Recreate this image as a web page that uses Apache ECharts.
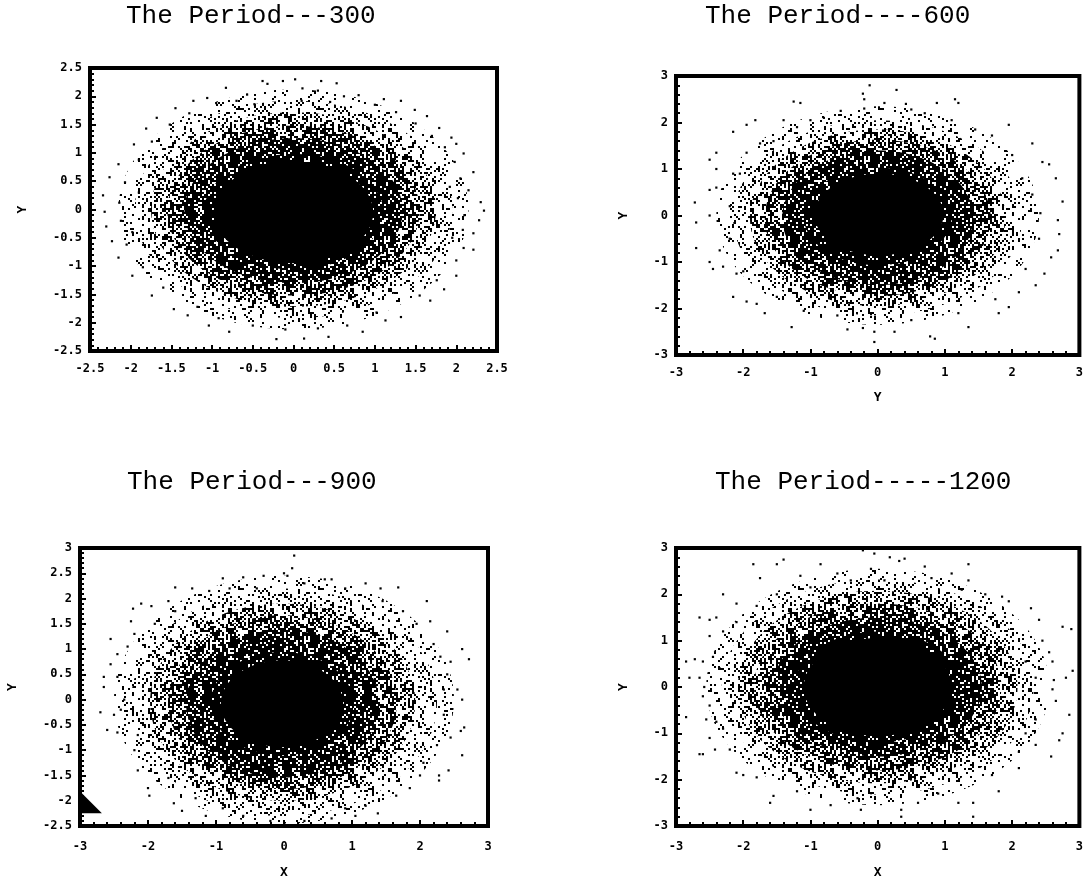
<!DOCTYPE html>
<html><head><meta charset="utf-8">
<style>html,body{margin:0;padding:0;background:#fff}#c{width:1086px;height:882px}</style>
<script src="https://cdn.jsdelivr.net/npm/echarts@6/dist/echarts.min.js"></script>
</head><body><div id="c"></div>
<script>
// Density regions: centre x, centre y, radius x, radius y, darkness level (10 = solid)
const regions300 = [[0,0,2.15,2.12,1],[0,0,1.95,1.92,2],[0,0,1.75,1.72,4],[0,-0.02,1.55,1.5,6],[0,-0.02,1.34,1.28,8],[0,-0.04,1.1,1.02,9],[0,-0.05,0.98,0.9,10]];
const regions600 = [[0,0,2.4,2.35,1],[0,-0.05,2.15,2.1,2],[0,-0.05,1.9,1.9,4],[0,-0.05,1.68,1.68,6],[0,-0.05,1.42,1.45,8],[0,-0.02,1.1,1.05,9],[0.02,0.02,0.96,0.88,10]];
const regions900 = [[0,0,2.5,2.45,1],[0,-0.05,2.25,2.25,2],[-0.02,-0.05,1.95,1.95,4],[-0.02,-0.05,1.68,1.72,6],[-0.02,-0.08,1.42,1.46,8],[-0.03,-0.08,1.05,1.02,9],[-0.03,-0.08,0.9,0.86,10]];
const regions1200 = [[0,0,2.55,2.55,1],[0,0,2.32,2.32,2],[0,0,2.08,2.08,4],[0,0,1.84,1.8,6],[0,0,1.55,1.5,8],[0,0,1.24,1.2,9],[0,0,1.1,1.06,10]];

// Individually readable outlying points
const points300 = [[-.38,2.27],[-.13,2.27],[.02,2.3],[.34,2.27],[.53,2.23],[-.83,2.15],[.11,2.14],[-.57,2.03],[-1.23,1.92],[-1.06,1.97],[1.11,1.95],[1.32,1.92],[1.49,1.76],[1.64,1.65],[1.79,1.44],[1.94,1.27],[2.0,1.16],[2.09,.99],[2.21,.66],[2.15,.34],[2.3,.13],[2.34,-.02],[2.28,-.19],[2.21,-.42],[2.21,-.71],[2.09,-.68],[2.0,-1.17],[1.85,-1.41],[1.68,-1.61],[1.32,-1.9],[1.13,-1.96],[.85,-2.16],[.43,-2.25],[.13,-2.28],[-.21,-2.29],[-.79,-2.16],[-1.04,-2.05],[-1.3,-1.87],[-1.47,-1.76],[-1.74,-1.52],[-1.98,-1.17],[-2.15,-.85],[-2.23,-.56],[-2.3,-.3],[-2.32,-.04],[-2.34,.25],[-2.26,.57],[-2.15,.8],[-1.96,1.15],[-1.81,1.43],[-1.68,1.62],[-1.45,1.79],[-.32,2.22],[.3,2.1],[.62,2.0],[.8,2.02],[-.95,1.88],[1.0,1.85],[1.26,1.72],[1.5,1.52],[1.7,1.3],[1.86,1.1],[1.98,.84],[2.05,.55],[2.02,.2],[2.1,-.1],[2.08,-.36],[2.0,-.9],[1.76,-1.25],[1.55,-1.52],[1.02,-1.82],[.66,-2.05],[.3,-2.1],[-.1,-2.12],[-.5,-2.05],[-.92,-1.92],[-1.18,-1.72],[-1.6,-1.38],[-1.85,-1.02],[-2.05,-.62],[-2.12,-.2],[-2.14,.12],[-2.07,.48],[-1.9,.88],[-1.74,1.2],[-1.52,1.5],[-1.28,1.7],[-.7,1.92],[-.48,1.86],[.1,1.92],[.45,1.9],[-1.9,.3],[-1.98,-.4],[1.92,.4],[1.95,-.5]];
const points600 = [[-.12,2.8],[-.22,2.62],[.28,2.7],[-.2,2.5],[-1.25,2.45],[-1.15,2.42],[.42,2.4],[.88,2.42],[1.15,2.5],[1.2,2.42],[-1.82,2.05],[-1.95,1.95],[-2.15,1.8],[1.95,1.95],[2.3,1.55],[2.45,1.15],[2.55,1.1],[2.65,.8],[2.75,.3],[2.68,-.1],[2.7,-.4],[2.68,-.75],[2.58,-.9],[2.48,-1.25],[2.35,-1.5],[2.1,-1.65],[1.95,-1.97],[1.8,-2.1],[1.35,-2.4],[.85,-2.65],[.78,-2.6],[.25,-2.5],[-.05,-2.72],[-.05,-2.5],[-.22,-2.42],[-.45,-2.45],[-1.28,-2.4],[-1.68,-2.1],[-1.8,-1.9],[-1.95,-1.85],[-2.15,-1.75],[-2.1,-1.25],[-2.3,-1.1],[-2.45,-1.15],[-2.5,-1.0],[-2.7,-.7],[-2.35,-.75],[-2.5,0],[-2.7,-.15],[-2.72,.28],[-2.5,.55],[-2.4,.6],[-2.4,1.0],[-2.5,1.2],[-2.4,1.35],[-2.15,.9],[-1.95,1.35],[-1.75,1.55],[-1.55,1.6],[-1.0,2.05],[-.55,2.25],[-.2,2.3],[.1,2.42],[.5,2.28],[.7,2.2],[1.1,2.05],[1.45,1.85],[1.7,1.72],[2.0,1.3],[2.15,.8],[2.3,.45],[2.42,.05],[2.4,-.5],[2.2,-1.15],[1.75,-1.8],[1.2,-2.1],[.5,-2.25],[-.6,-2.15],[-1.1,-2.05],[-1.5,-1.75],[-2.0,-1.2],[-2.2,-.5],[-2.2,.2],[-2.05,.9],[-1.2,1.9],[-.8,2.1],[-1.4,2.05]];
const points900 = [[.15,2.85],[.12,2.6],[0,2.5],[.05,2.45],[-.9,2.4],[-.6,2.42],[-.3,2.45],[.6,2.38],[.7,2.38],[1.2,2.3],[1.42,2.2],[1.68,2.22],[-1.6,2.22],[-1.35,2.2],[2.1,1.95],[2.15,1.55],[2.4,1.35],[2.62,1.0],[2.72,.8],[2.45,.75],[2.4,.5],[2.55,.2],[2.62,0],[2.65,-.55],[2.6,-.62],[2.45,-.75],[2.62,-1.1],[2.42,-1.4],[2.28,-1.5],[2.28,-1.6],[2.0,-1.5],[1.65,-1.9],[1.38,-2.25],[1.05,-2.3],[.7,-2.35],[.3,-2.4],[-.2,-2.4],[-.6,-2.3],[-1.15,-2.3],[-1.5,-2.2],[-1.62,-2.05],[-1.98,-1.9],[-2.0,-1.75],[-2.15,-1.4],[-2.2,-1.0],[-2.45,-.65],[-2.6,-.6],[-2.7,-.25],[-2.5,-.3],[-2.65,.25],[-2.65,.45],[-2.45,.45],[-2.55,.7],[-2.45,.9],[-2.55,1.2],[-2.3,1.05],[-2.2,1.3],[-2.25,1.55],[-2.22,1.8],[-2.1,1.9],[-1.95,1.85],[-1.7,1.95],[-1.1,2.15],[-.8,2.2],[-.4,2.2],[.3,2.3],[.9,2.2],[1.45,1.95],[1.75,1.75],[1.95,1.5],[2.2,1.1],[2.3,.85],[2.35,.2],[2.35,-.3],[2.25,-.9],[2.05,-1.25],[1.85,-1.75],[1.2,-2.1],[.9,-2.15],[-.9,-2.15],[-1.3,-1.95],[-1.7,-1.55],[-2.15,-.7],[-2.35,0],[-2.4,-.2],[-1.6,1.75],[-1.9,1.5]];
const points1200 = [[-.22,2.95],[-.05,2.88],[.18,2.8],[.4,2.77],[.32,2.72],[1.35,2.65],[.7,2.6],[-1.85,2.65],[-1.5,2.65],[-1.4,2.75],[-.85,2.65],[-.6,2.45],[-.1,2.55],[1.1,2.45],[1.35,2.3],[-1.75,2.35],[-1.15,2.4],[-2.3,2.0],[-2.1,1.8],[-1.8,1.75],[-2.65,1.5],[-2.5,1.45],[-2.4,1.5],[-2.3,1.2],[-2.5,1.1],[-2.72,.6],[-2.85,.55],[-2.6,.55],[-2.45,.65],[-2.65,.2],[-2.8,.2],[-2.58,0],[-2.85,-.65],[-2.6,-.2],[-2.5,-.4],[-2.55,-.7],[-2.4,-.75],[-2.5,-1.1],[-2.42,-1.35],[-2.6,-1.45],[-2.65,-1.45],[-2.2,-1.35],[-2.1,-1.85],[-2.0,-1.9],[-1.8,-1.95],[-1.55,-2.35],[-1.6,-2.5],[-1.0,-2.65],[-.7,-2.55],[-.25,-2.65],[.35,-2.65],[.6,-2.5],[1.2,-2.5],[1.42,-2.5],[1.42,-2.8],[.35,-2.8],[1.8,-2.25],[2.1,-1.75],[2.1,-1.4],[2.35,-1.25],[2.75,-1.0],[2.7,-1.15],[2.58,-1.5],[2.85,-.6],[2.65,-.3],[2.6,-.05],[2.62,.15],[2.8,.2],[2.9,.35],[2.6,.55],[2.55,.75],[2.45,1.0],[2.4,1.45],[2.75,1.3],[2.88,1.25],[2.28,1.7],[1.95,1.85],[1.85,1.95],[1.6,2.0],[1.25,2.1],[.8,2.35],[.1,2.3],[-.4,2.3],[-1.0,2.15],[-1.5,2.0],[2.2,.55],[2.35,.2],[2.35,-.7],[2.2,-1.0],[1.7,-1.9],[.9,-2.3],[-.3,-2.4],[-1.2,-2.25],[-2.3,-.9],[-2.35,.4],[-2.1,1.4]];
const cornerMark900 = [[-2.84,-2.03]];

const titles = ["The Period---300","The Period----600","The Period---900","The Period-----1200"];
const yTop = [2.5,3,3,3];
const yBottom = [-2.5,-3,-2.5,-3];
const xEnd = [2.5,3,3,3];
const yStep = [0.5,1,0.5,1];
const xStep = [0.5,1,1,1];
const xNames = ["","Y","X","X"];
const yNames = ["Y","Y","Y","Y"];

// 40x40 speckle texture; a cell is inked when its digit is below the region's darkness level
const speckle = [
"7291046385917740338152970436882759403168",
"3806652974113819275946381127506148693750",
"9142738056298483706015244037619259483716",
"5670391124705862938401735293081647205038",
"0483926875830141267958094126153908241675",
"8215640397962584439271058403927760584923",
"3759081246137015824690373882469307158246",
"6024857391558460617924586931792458103179",
"1938204765703982176410398857641539825764",
"7460391928246039552874103915387460791528",
"2815376043681597204328959760432015976843",
"9063248715106324971590632187159463248715",
"4172805369817280136941628053694972805369",
"6539614827053901782765390648276239014827",
"0827163195482746919508274031950527463195",
"3194750868319475326831247502683994750268",
"7506228431950692143175869284317706928431",
"2648903975164810797526081039752248103975",
"8371060294537156429483915602948171560294",
"5920787146292038514659803871465320387146",
"1483292750748369875014136927501983692750",
"6057814983105721698360972149836457214983",
"9762348135576204113597420481359062048135",
"3215079064821587306432758790643615879064",
"7840926519284032051978103265197540326519",
"0396351482639675948203267514820796751482",
"4581730726058193572645219307264981930726",
"8127965093412746209381674650938327465093",
"2960583754096018775429101837542860183754",
"5734829168273402516857940291685134029168",
"9416072830541657883094365728309716572830",
"1078746295307834129510583462951278346295",
"6285310437928591643762159104376885910437",
"3549607816154920381635892078163249207816",
"7801963592280146759278314635927401463592",
"0692138145569273214506427381450892738145",
"4317495268031709826843670952684117095268",
"8153042907615364790781936429078253642907",
"2476301359847680535924168013592976801359",
"5938672640193817064059781726405238172640"];

// column scrambling, hand-picked, breaks up the vertical runs in the rows above
const colOrder = [13,2,27,8,35,19,4,31,11,23,0,38,16,6,29,21,34,1,14,26,9,37,18,3,32,12,24,7,39,15,28,5,22,33,10,36,17,25,30,20];
const rowShift = [0,17,5,29,11,36,3,22,14,33,8,26,1,19,38,6,31,12,24,9,35,2,21,15,28,4,37,10,18,27,7,32,13,25,39,16,30,20,34,23];

const tiles = {};
function tile(level){
  if(tiles[level]) return tiles[level];
  const cell=2, n=speckle.length, cv=document.createElement('canvas');
  cv.width=cv.height=n*cell;
  const g=cv.getContext('2d'); g.fillStyle='#000';
  speckle.forEach((row,r)=>{for(let c=0;c<row.length;c++){
    if(+row[colOrder[(c+rowShift[r])%n]]<level) g.fillRect(c*cell,r*cell,cell,cell);
  }});
  return tiles[level]=cv;
}

const allRegions=[regions300,regions600,regions900,regions1200];
const allPoints=[points300,points600,points900,points1200];
const boxes=[
 {left:90,top:68,width:407,height:283},
 {left:676,top:76,width:405,height:279},
 {left:80,top:548,width:408,height:278},
 {left:676,top:548,width:405,height:278}];
const titlePos=[[121,-2],[700,-2],[122,464],[710,464]];
const yNameGap=[61,46,61,46];
const xLabelMargin=[12,12,15,15];
const xNameGap=[38,36,40,40];

const axisFont={fontFamily:'DejaVu Sans Mono',fontWeight:'bold',fontSize:12,color:'#000'};
const option={animation:false,backgroundColor:'#fff',title:[],grid:[],xAxis:[],yAxis:[],series:[]};
titles.forEach((t,i)=>{
  option.title.push({text:t,left:titlePos[i][0],top:titlePos[i][1],
    textStyle:{fontFamily:'Liberation Mono',fontWeight:'normal',fontSize:26,color:'#000'}});
  option.grid.push(Object.assign({show:true,borderColor:'#000',borderWidth:4,backgroundColor:'#fff',containLabel:false},boxes[i]));
  const common={gridIndex:i,type:'value',splitLine:{show:false},
    axisLine:{show:false,onZero:false},
    axisTick:{show:true,inside:true,length:6,lineStyle:{color:'#000',width:2}},
    minorTick:{show:true,splitNumber:5,length:4,lineStyle:{color:'#000',width:2}},
    nameTextStyle:{fontFamily:'DejaVu Sans Mono',fontWeight:'bold',fontSize:13,color:'#000'},
    nameLocation:'middle'};
  option.xAxis.push(Object.assign({},common,{position:'bottom',min:-xEnd[i],max:xEnd[i],interval:xStep[i],name:xNames[i],nameGap:xNameGap[i],
    axisLabel:Object.assign({margin:xLabelMargin[i],showMinLabel:true,showMaxLabel:true},axisFont)}));
  option.yAxis.push(Object.assign({},common,{position:'left',min:yBottom[i],max:yTop[i],interval:yStep[i],name:yNames[i],nameGap:yNameGap[i],nameRotate:90,
    axisLabel:Object.assign({margin:8,showMinLabel:true,showMaxLabel:true},axisFont)}));
  option.series.push({type:'custom',xAxisIndex:i,yAxisIndex:i,silent:true,coordinateSystem:'cartesian2d',
    data:allRegions[i],encode:{x:0,y:1},clip:true,
    renderItem:(p,api)=>{
      const c=api.coord([api.value(0),api.value(1)]);
      const s=api.size([api.value(2),api.value(3)],[api.value(0),api.value(1)]);
      const lv=api.value(4);
      return {type:'ellipse',shape:{cx:c[0],cy:c[1],rx:s[0],ry:s[1]},
        style:{fill:lv>=10?'#000':{image:tile(lv),repeat:'repeat'},stroke:null}};
    }});
  option.series.push({type:'scatter',xAxisIndex:i,yAxisIndex:i,silent:true,data:allPoints[i],
    symbol:'rect',symbolSize:2.2,itemStyle:{color:'#000',opacity:1}});
});
option.series.push({type:'scatter',xAxisIndex:2,yAxisIndex:2,silent:true,data:cornerMark900,
  symbol:'path://M0 0L22 21L0 21Z',symbolSize:[22,22],itemStyle:{color:'#000',opacity:1}});
const chart=echarts.init(document.getElementById('c'),null,{renderer:'canvas'});
chart.setOption(option);
</script></body></html>
